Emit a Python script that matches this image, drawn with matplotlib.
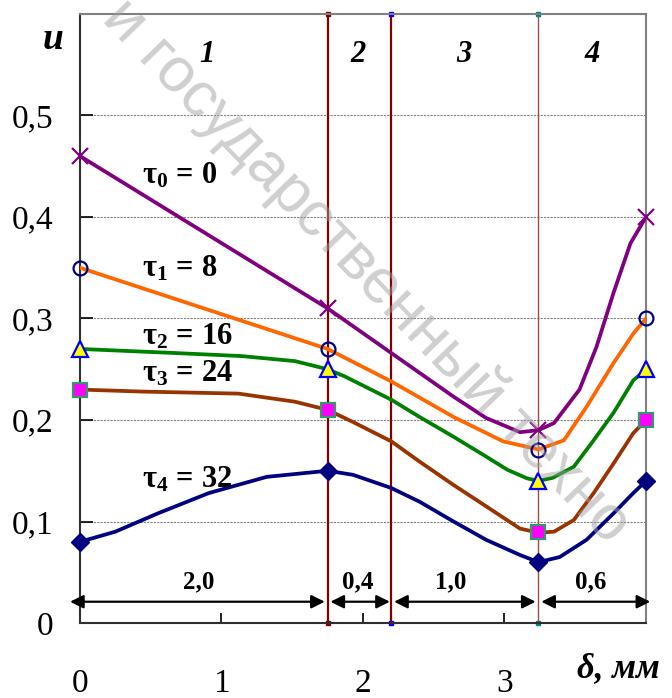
import matplotlib
matplotlib.use("Agg")
import matplotlib.pyplot as plt

plt.rcParams['font.family'] = ['Liberation Serif', 'DejaVu Serif']
plt.rcParams['mathtext.fontset'] = 'custom'
plt.rcParams['mathtext.rm'] = 'Liberation Serif'
plt.rcParams['mathtext.it'] = 'Liberation Serif:italic'
plt.rcParams['mathtext.bf'] = 'Liberation Serif:bold'

# marker positions (layer boundaries) and values
x_marks = [0, 1.75, 3.24, 4.0]
u0_marks = [0.46, 0.31, 0.19, 0.40]
u1_marks = [0.35, 0.27, 0.17, 0.30]
u2_marks = [0.27, 0.25, 0.14, 0.25]
u3_marks = [0.23, 0.21, 0.09, 0.20]
u4_marks = [0.08, 0.15, 0.06, 0.14]

# smoothed curves
x0 = [0, 1.75, 2.2, 2.64, 2.87, 3.11, 3.24, 3.35, 3.53, 3.65, 3.77, 3.89, 4.0]
u0 = [0.46, 0.31, 0.266, 0.223, 0.202, 0.188, 0.19, 0.197, 0.23, 0.272, 0.325, 0.374, 0.40]
x1 = [0, 1.75, 2.2, 2.64, 2.99, 3.24, 3.42, 3.58, 3.77, 3.91, 4.0]
u1 = [0.35, 0.27, 0.238, 0.203, 0.179, 0.171, 0.18, 0.213, 0.256, 0.285, 0.30]
x2 = [0, 0.67, 1.14, 1.52, 1.75, 1.87, 2.2, 2.4, 2.64, 2.87, 3.02, 3.16, 3.24, 3.34, 3.49, 3.63, 3.77, 3.91, 4.0]
u2 = [0.27, 0.266, 0.263, 0.258, 0.25, 0.243, 0.22, 0.203, 0.1835, 0.164, 0.151, 0.1425, 0.14, 0.143, 0.154, 0.18, 0.207, 0.239, 0.25]
x3 = [0, 0.44, 1.12, 1.52, 1.75, 1.93, 2.2, 2.4, 2.64, 2.87, 3.11, 3.24, 3.35, 3.49, 3.63, 3.77, 3.91, 4.0]
u3 = [0.23, 0.228, 0.226, 0.218, 0.21, 0.198, 0.179, 0.159, 0.136, 0.115, 0.093, 0.089, 0.09, 0.1015, 0.128, 0.157, 0.187, 0.20]
x4 = [0, 0.25, 0.55, 0.91, 1.32, 1.75, 1.93, 2.2, 2.4, 2.64, 2.87, 3.11, 3.24, 3.39, 3.58, 3.77, 3.91, 4.0]
u4 = [0.08, 0.09, 0.108, 0.128, 0.144, 0.15, 0.146, 0.133, 0.1195, 0.1, 0.082, 0.067, 0.06, 0.065, 0.082, 0.108, 0.128, 0.14]

tau_labels = [r'$\mathbf{\tau_0\,=\,0}$', r'$\mathbf{\tau_1\,=\,8}$', r'$\mathbf{\tau_2\,=\,16}$',
              r'$\mathbf{\tau_3\,=\,24}$', r'$\mathbf{\tau_4\,=\,32}$']
tau_label_y = [0.433, 0.341, 0.274, 0.238, 0.134]

# layers
boundaries = [1.75, 2.2, 3.24]
layer_names = ['1', '2', '3', '4']
layer_name_x = [0.9, 1.965, 2.71, 3.62]
thickness = ['2,0', '0,4', '1,0', '0,6']
thick_spans = [(-0.07, 1.73), (1.77, 2.19), (2.22, 3.22), (3.26, 4.03)]
thick_label_x = [0.836, 1.96, 2.62, 3.61]

yticks = [0, 0.1, 0.2, 0.3, 0.4, 0.5, 0.6]
ytick_labels = ['0', '0,1', '0,2', '0,3', '0,4', '0,5', '']
xticks = [0, 1, 2, 3, 4]
xtick_labels = ['0', '1', '2', '3', '']

fig = plt.figure(figsize=(6.72, 6.98), dpi=100)
ax = fig.add_axes([0.119, 0.1074, 0.8423, 0.8726])
ax.set_xlim(0, 4.0)
ax.set_ylim(0, 0.6)

# grid
for y in yticks[1:-1]:
    ax.axhline(y, color='#808080', lw=0.8, ls=(0, (2, 1)), zorder=1)

# layer boundaries
vcolors = ['#800000', '#800000', '#a04848']
vwidths = [1.6, 1.6, 1.0]
vmarks = ['#800000', '#0000ff', '#008080']
for b, c, w, mc in zip(boundaries, vcolors, vwidths, vmarks):
    ax.plot([b, b], [0, 0.6], color=c, lw=w, marker='s', ms=3.5, mfc=mc, mec=mc,
            clip_on=False, zorder=2)

# curves
lw = 2.7
ax.plot(x0, u0, color='#800080', lw=lw, zorder=3, solid_joinstyle='round')
ax.plot(x1, u1, color='#ff6600', lw=lw, zorder=3, solid_joinstyle='round')
ax.plot(x2, u2, color='#008000', lw=lw, zorder=3, solid_joinstyle='round')
ax.plot(x3, u3, color='#993300', lw=lw, zorder=3, solid_joinstyle='round')
ax.plot(x4, u4, color='#000080', lw=lw, zorder=3, solid_joinstyle='round')

ax.plot(x_marks, u0_marks, ls='none', marker='x', ms=11, mew=1.6, color='#800080', clip_on=False, zorder=4)
ax.plot(x_marks, u1_marks, ls='none', marker='o', ms=10, mew=1.6, mfc='none', mec='#000080', clip_on=False, zorder=4)
ax.plot(x_marks, u2_marks, ls='none', marker='^', ms=11, mew=1.6, mfc='#ffff00', mec='#0000ff', clip_on=False, zorder=4)
ax.plot(x_marks, u3_marks, ls='none', marker='s', ms=10, mew=1.6, mfc='#ff00ff', mec='#339966', clip_on=False, zorder=4)
ax.plot(x_marks, u4_marks, ls='none', marker='D', ms=9, color='#000080', clip_on=False, zorder=4)

for lab, y in zip(tau_labels, tau_label_y):
    ax.text(0.44, y, lab, fontsize=22, ha='left', va='baseline', zorder=5)

for lab, x in zip(layer_names, layer_name_x):
    ax.text(x, 0.56, lab, fontsize=22, fontweight='bold', fontstyle='italic',
            ha='center', va='center')

for lab, (a, b), x in zip(thickness, thick_spans, thick_label_x):
    ax.annotate('', xy=(b, 0.021), xytext=(a, 0.021), annotation_clip=False,
                arrowprops=dict(arrowstyle='<|-|>', color='black', lw=1.6,
                                mutation_scale=20, shrinkA=0, shrinkB=0))
    ax.text(x, 0.041, lab, fontsize=18, fontweight='bold', ha='center', va='center')

ax.set_yticks(yticks)
ax.set_yticklabels(ytick_labels)
ax.set_xticks(xticks)
ax.set_xticklabels(xtick_labels)
ax.tick_params(axis='y', direction='in', length=9, width=1.2, pad=19, labelsize=24)
ax.tick_params(axis='x', direction='in', length=7, width=1.2, pad=33, labelsize=24)

for side in ['left', 'bottom']:
    ax.spines[side].set_color('#303030')
    ax.spines[side].set_linewidth(1.5)
for side in ['top', 'right']:
    ax.spines[side].set_color('#808080')
    ax.spines[side].set_linewidth(1.5)

fig.text(0.079, 0.943, 'u', fontsize=27, fontweight='bold', fontstyle='italic',
         ha='center', va='center')
fig.text(0.858, 0.0305, 'δ, мм', fontsize=25, fontweight='bold', fontstyle='italic',
         ha='left', va='baseline')

# watermark
fig.text(0.149, 0.971, 'и государственный техно', fontsize=45,
         family='Liberation Sans', color='#a0a0a0', alpha=0.5,
         rotation=-46, rotation_mode='anchor', ha='left', va='baseline', zorder=10)

fig.savefig('out.png', dpi=100)
